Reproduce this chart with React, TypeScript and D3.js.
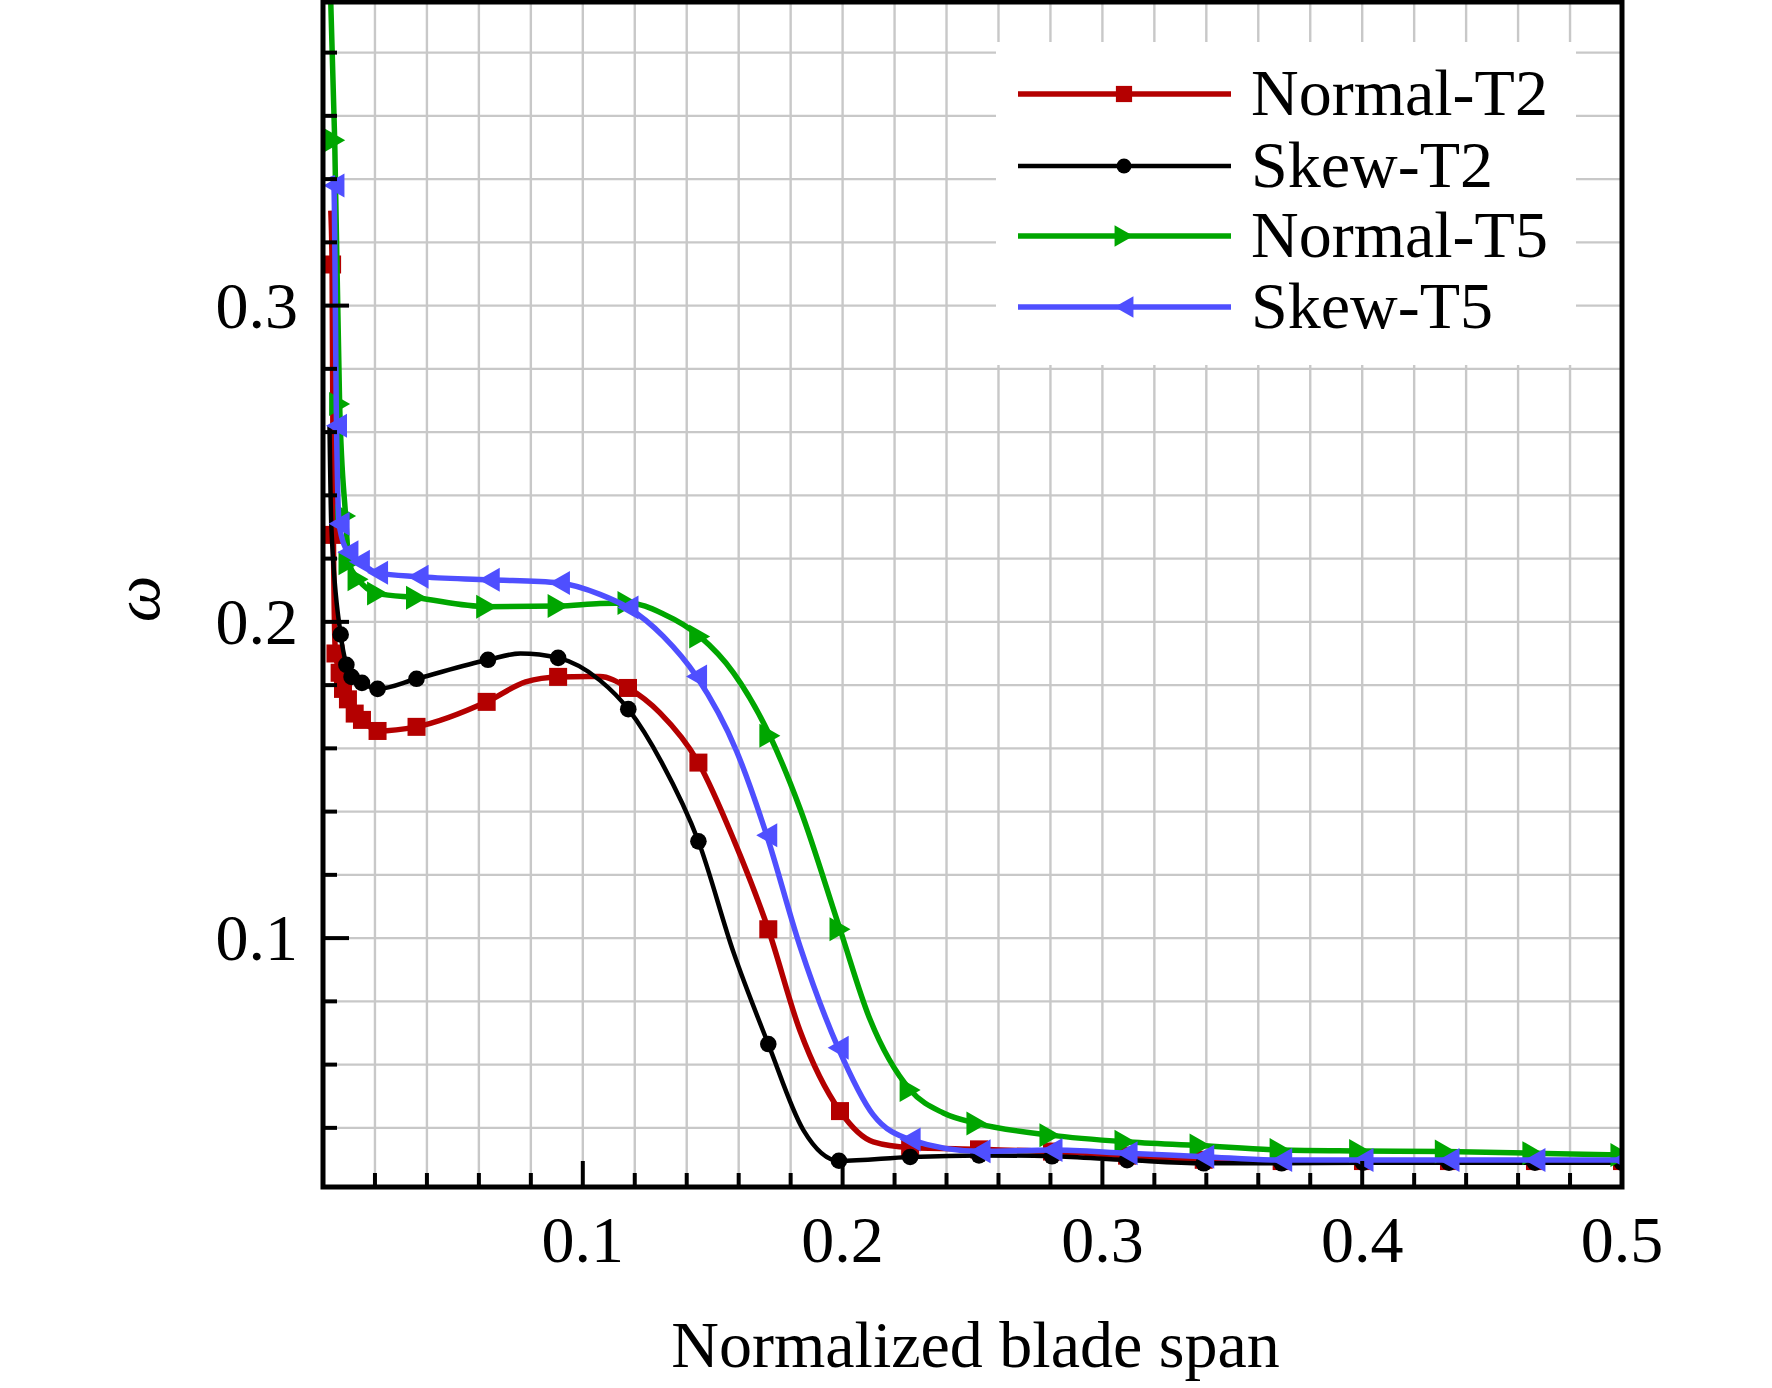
import React from "react";
import * as d3 from "d3";

// ---------- data ----------
// [x, y, marker(1) or curve-only(0)]
const normalT2: [number, number, number][] = [
  [0.003, 0.33, 0], [0.0035, 0.313, 1], [0.004, 0.2275, 1], [0.0048, 0.19, 1],
  [0.0064, 0.1839, 1], [0.0077, 0.1788, 1], [0.0096, 0.1755, 1], [0.0122, 0.171, 1],
  [0.015, 0.169, 1], [0.021, 0.1655, 1], [0.036, 0.1668, 1], [0.063, 0.1747, 1],
  [0.078, 0.181, 0], [0.0905, 0.1826, 1], [0.1066, 0.1827, 0], [0.1174, 0.1791, 1],
  [0.1297, 0.1712, 0], [0.1445, 0.1555, 1], [0.158, 0.1313, 0], [0.1714, 0.1028, 1],
  [0.1836, 0.0707, 0], [0.199, 0.0453, 1], [0.2118, 0.0356, 0], [0.226, 0.0338, 1],
  [0.2525, 0.0332, 1], [0.2806, 0.0325, 1], [0.3095, 0.0312, 1], [0.339, 0.0299, 1],
  [0.369, 0.0295, 1], [0.4003, 0.0295, 1], [0.4334, 0.0295, 1], [0.4665, 0.0295, 1],
  [0.5, 0.0295, 1],
];
const skewT2: [number, number, number][] = [
  [0.0025, 0.262, 0], [0.0032, 0.2304, 0], [0.0068, 0.196, 1], [0.009, 0.1864, 1],
  [0.011, 0.1826, 1], [0.015, 0.1807, 1], [0.021, 0.1788, 1], [0.036, 0.182, 1],
  [0.0635, 0.188, 1], [0.076, 0.19, 0], [0.0905, 0.1886, 1], [0.1066, 0.1815, 0],
  [0.1175, 0.1724, 1], [0.1304, 0.1555, 0], [0.1445, 0.1306, 1], [0.158, 0.0955, 0],
  [0.1714, 0.0665, 1], [0.1849, 0.0393, 0], [0.1986, 0.0296, 1], [0.226, 0.0308, 1],
  [0.2525, 0.0313, 1], [0.2806, 0.031, 1], [0.3095, 0.0298, 1], [0.339, 0.0288, 1],
  [0.369, 0.0288, 1], [0.4003, 0.029, 1], [0.4334, 0.029, 1], [0.4665, 0.029, 1],
  [0.5, 0.029, 1],
];
const normalT5: [number, number, number][] = [
  [0.0025, 0.41, 0], [0.0045, 0.3523, 1], [0.0064, 0.2689, 1], [0.0087, 0.2335, 1],
  [0.01, 0.2185, 1], [0.0135, 0.2135, 1], [0.021, 0.209, 1], [0.036, 0.2076, 1],
  [0.063, 0.2048, 1], [0.0905, 0.205, 1], [0.1066, 0.2058, 0], [0.1174, 0.206, 1],
  [0.131, 0.2025, 0], [0.145, 0.1954, 1], [0.158, 0.1839, 0], [0.172, 0.164, 1],
  [0.1836, 0.141, 0], [0.199, 0.1028, 1], [0.2105, 0.0744, 0], [0.226, 0.052, 1],
  [0.2388, 0.0447, 0], [0.2517, 0.0414, 1], [0.2798, 0.0377, 1], [0.3087, 0.0356, 1],
  [0.3376, 0.0344, 1], [0.3684, 0.033, 1], [0.399, 0.0327, 1], [0.432, 0.0325, 1],
  [0.4657, 0.032, 1], [0.4996, 0.0314, 1],
];
const skewT5: [number, number, number][] = [
  [0.0035, 0.341, 0], [0.0042, 0.338, 1], [0.0052, 0.262, 1], [0.0062, 0.231, 1],
  [0.0096, 0.222, 1], [0.014, 0.219, 1], [0.021, 0.2155, 1], [0.0366, 0.2143, 1],
  [0.064, 0.2133, 1], [0.091, 0.2123, 1], [0.1066, 0.2087, 0], [0.1174, 0.2045, 1],
  [0.131, 0.1954, 0], [0.1438, 0.1827, 1], [0.1592, 0.1591, 0], [0.1708, 0.1325, 1],
  [0.1836, 0.0974, 0], [0.1983, 0.0653, 1], [0.2118, 0.0441, 0], [0.226, 0.0363, 1],
  [0.2529, 0.0326, 1], [0.2806, 0.033, 1], [0.3095, 0.032, 1], [0.339, 0.0309, 1],
  [0.369, 0.0298, 1], [0.4003, 0.0298, 1], [0.4334, 0.0298, 1], [0.4665, 0.0298, 1],
  [0.5, 0.0298, 1],
];

const seriesNames = ["Normal-T2", "Skew-T2", "Normal-T5", "Skew-T5"];
const xTickLabels = [0.1, 0.2, 0.3, 0.4, 0.5];
const yTickLabels = [0.1, 0.2, 0.3];
const xDomain = [0, 0.5];
const yDomain = [0.0213, 0.396];

// ---------- layout ----------
const W = 1772, H = 1388;
const L = 323, R = 1622, T = 2, B = 1187;
const FONT = "'Liberation Serif', 'Times New Roman', serif";

const x = d3.scaleLinear().domain(xDomain).range([L, R]);
const y = d3.scaleLinear().domain(yDomain).range([B, T]);

const styles = [
  { color: "#b40000", width: 5.5, marker: "square" },
  { color: "#000000", width: 4.5, marker: "circle" },
  { color: "#00a600", width: 5.5, marker: "triRight" },
  { color: "#4f4fff", width: 5.5, marker: "triLeft" },
];
const allSeries = [normalT2, skewT2, normalT5, skewT5];

function Marker({ kind, cx, cy, color, s = 1 }: { kind: string; cx: number; cy: number; color: string; s?: number }) {
  if (kind === "square") {
    const a = 18 * s;
    return <rect x={cx - a / 2} y={cy - a / 2} width={a} height={a} fill={color} />;
  }
  if (kind === "circle") return <circle cx={cx} cy={cy} r={8.3 * s} fill={color} />;
  const w = 10.5 * s, h = 12 * s;
  if (kind === "triRight")
    return <path d={`M${cx - w},${cy - h}L${cx + w},${cy}L${cx - w},${cy + h}Z`} fill={color} />;
  return <path d={`M${cx + w},${cy - h}L${cx - w},${cy}L${cx + w},${cy + h}Z`} fill={color} />;
}

export default function App() {
  const line = d3
    .line<[number, number, number]>()
    .x((d) => x(d[0]))
    .y((d) => y(d[1]))
    .curve(d3.curveMonotoneX);

  const gridX = d3.range(1, 25).map((i) => +(i * 0.02).toFixed(2));
  const gridY = d3.range(2, 20).map((i) => +(i * 0.02).toFixed(2));
  const isMajor = (v: number) => Math.abs(v * 10 - Math.round(v * 10)) < 1e-6;

  const legendLines = [94, 166, 236, 307];

  return (
    <svg
      width={W}
      height={H}
      style={{ position: "absolute", left: 0, top: 0, background: "#fff" }}
      fontFamily={FONT}
    >
      <defs>
        <clipPath id="plot">
          <rect x={L} y={T} width={R - L} height={B - T} />
        </clipPath>
      </defs>
      <rect x={0} y={0} width={W} height={H} fill="#fff" />
      {/* grid */}
      <g stroke="#c8c8c8" strokeWidth={2.4}>
        {gridX.map((v) => (
          <line key={"gx" + v} x1={x(v)} x2={x(v)} y1={T} y2={B} />
        ))}
        {gridY.map((v) => (
          <line key={"gy" + v} x1={L} x2={R} y1={y(v)} y2={y(v)} />
        ))}
      </g>
      {/* legend background */}
      <rect x={996} y={42} width={580} height={323} fill="#fff" />

      {/* series */}
      <g clipPath="url(#plot)">
        {allSeries.map((s, i) => (
          <g key={"s" + i}>
            <path d={line(s) || ""} fill="none" stroke={styles[i].color} strokeWidth={styles[i].width} strokeLinejoin="round" />
            {s
              .filter((d) => d[2] === 1)
              .map((d, j) => (
                <Marker key={j} kind={styles[i].marker} cx={x(d[0])} cy={y(d[1])} color={styles[i].color} />
              ))}
          </g>
        ))}
      </g>

      {/* ticks */}
      <g stroke="#000" strokeWidth={4}>
        {gridX.concat([0.5]).map((v) => (
          <line key={"tx" + v} x1={x(v)} x2={x(v)} y1={B} y2={B - (isMajor(v) ? 26 : 14)} />
        ))}
        {gridY.map((v) => (
          <line key={"ty" + v} x1={L} x2={L + (isMajor(v) ? 26 : 14)} y1={y(v)} y2={y(v)} />
        ))}
      </g>
      {/* frame */}
      <rect x={L} y={T} width={R - L} height={B - T} fill="none" stroke="#000" strokeWidth={5} />

      {/* tick labels */}
      <g fontSize={66} fill="#000">
        {xTickLabels.map((v) => (
          <text key={"lx" + v} x={x(v)} y={1262} textAnchor="middle">
            {v.toFixed(1)}
          </text>
        ))}
        {yTickLabels.map((v) => (
          <text key={"ly" + v} x={298} y={y(v) + 22} textAnchor="end">
            {v.toFixed(1)}
          </text>
        ))}
      </g>

      {/* axis titles */}
      <text x={(L + R) / 2 + 3} y={1367} fontSize={66} textAnchor="middle">
        Normalized blade span
      </text>
      <text
        transform={`translate(${159},${599}) rotate(-90)`}
        fontSize={66}
        fontStyle="italic"
        textAnchor="middle"
      >
        ω
      </text>

      {/* legend */}
      {seriesNames.map((name, i) => (
        <g key={"lg" + i}>
          <line x1={1018} x2={1231} y1={legendLines[i]} y2={legendLines[i]} stroke={styles[i].color} strokeWidth={styles[i].width} />
          <Marker kind={styles[i].marker} cx={1124} cy={legendLines[i]} color={styles[i].color} s={0.9} />
          <text x={1251} y={legendLines[i] + 21} fontSize={66}>
            {name}
          </text>
        </g>
      ))}
    </svg>
  );
}
